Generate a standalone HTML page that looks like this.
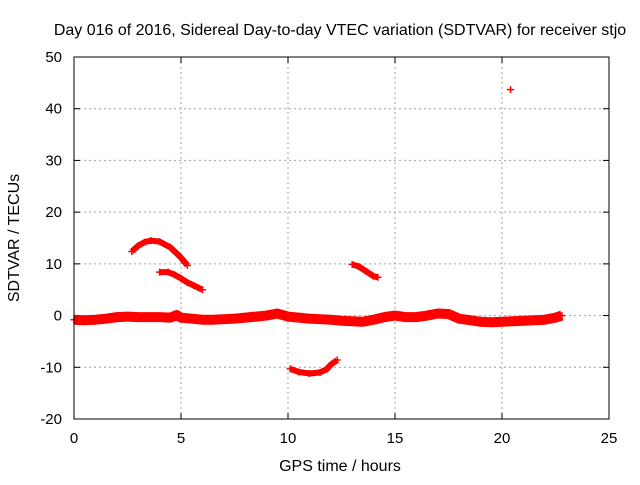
<!DOCTYPE html>
<html><head><meta charset="utf-8"><style>
body{margin:0;background:#fff}
svg text{font-family:"Liberation Sans",sans-serif;font-size:15px;fill:#000}
svg text.big{font-size:16px}
</style></head><body>
<svg id="c" width="640" height="480">
<text class="big" x="340" y="35" text-anchor="middle">Day 016 of 2016, Sidereal Day-to-day VTEC variation (SDTVAR) for receiver stjo</text>
<text class="big" x="340" y="471" text-anchor="middle">GPS time / hours</text>
<text class="big" transform="translate(19,238) rotate(-90)" text-anchor="middle">SDTVAR / TECUs</text>
<g id="grid"></g><g id="marks"></g>
<rect x="74" y="57" width="535" height="362" fill="none" stroke="#000"/>
</svg>
<script>
const xTicks=[0,5,10,15,20,25];
const yTicks=[-20,-10,0,10,20,30,40,50];
const bandT=[0,0.5,1,1.5,2,2.5,3,3.5,4,4.5,4.8,5,5.5,6,6.5,7,7.5,8,8.5,9,9.5,10,10.5,11,11.5,12,12.5,13,13.5,14,14.5,15,15.5,16,16.5,17,17.5,18,18.5,19,19.5,20,20.5,21,21.5,22,22.5,22.8];
const bandV=[-0.8,-0.9,-0.8,-0.6,-0.3,-0.2,-0.3,-0.3,-0.3,-0.4,0.1,-0.4,-0.6,-0.8,-0.8,-0.7,-0.6,-0.4,-0.2,0,0.4,-0.2,-0.4,-0.6,-0.7,-0.8,-1,-1.1,-1.2,-0.8,-0.3,0,-0.3,-0.3,0,0.4,0.3,-0.6,-0.9,-1.2,-1.3,-1.2,-1.1,-1,-0.9,-0.8,-0.4,0];
const arc1T=[2.7,3,3.3,3.6,4,4.5,5,5.3];
const arc1V=[12.4,13.5,14.2,14.5,14.3,13.2,11.2,9.7];
const arc2T=[4,4.4,4.7,5,5.3,5.6,6];
const arc2V=[8.4,8.4,7.9,7.2,6.4,5.8,5];
const arc3T=[13,13.3,13.6,14,14.2];
const arc3V=[9.9,9.5,8.7,7.6,7.4];
const arc4T=[10.1,10.5,11,11.5,11.8,12,12.3];
const arc4V=[-10.3,-10.9,-11.2,-11,-10.4,-9.5,-8.6];
const outT=[20.4], outV=[43.7];
const X=t=>74+t*535/25, Y=v=>419-(v+20)*362/70;
const NS='http://www.w3.org/2000/svg';
const g=document.getElementById('grid'), m=document.getElementById('marks');
function mk(p,tag,a){const e=document.createElementNS(NS,tag);for(const k in a)e.setAttribute(k,a[k]);p.appendChild(e);return e;}
xTicks.forEach(t=>{const x=X(t);
 if(t>0&&t<25){const l=mk(g,'line',{x1:x,x2:x,y1:57,y2:419,stroke:'#a0a0a0','stroke-dasharray':'2,3'});
 
 }
 mk(g,'line',{x1:x,x2:x,y1:419,y2:413,stroke:'#000'});mk(g,'line',{x1:x,x2:x,y1:57,y2:63,stroke:'#000'});
 const tx=mk(g,'text',{x:x,y:443,'text-anchor':'middle'});tx.textContent=t;
 
 });
yTicks.forEach(v=>{const y=Y(v);
 if(v>-20&&v<50){const l=mk(g,'line',{x1:74,x2:609,y1:y,y2:y,stroke:'#a0a0a0','stroke-dasharray':'2,3'});
 
 }
 mk(g,'line',{x1:74,x2:80,y1:y,y2:y,stroke:'#000'});mk(g,'line',{x1:609,x2:603,y1:y,y2:y,stroke:'#000'});
 const tx=mk(g,'text',{x:62,y:y+5,'text-anchor':'end'});tx.textContent=v;
 
 });
function series(T,V,w,name){
 const pts=T.map((t,i)=>X(t)+','+Y(V[i])).join(' ');
 const pl=mk(m,'polyline',{points:pts,fill:'none',stroke:'#f00','stroke-width':w,'stroke-linejoin':'round'});
 
 
 T.forEach((t,i)=>{const x=X(t),y=Y(V[i]);
  const p=mk(m,'path',{d:`M${x-3.5},${y}h7M${x},${y-3.5}v7`,stroke:'#f00','stroke-width':1.5});
  
  });
}
series(bandT,bandV,10,'main-band');
series(arc1T,arc1V,6,'arc-series-1');
series(arc2T,arc2V,6,'arc-series-2');
series(arc3T,arc3V,6,'arc-series-3');
series(arc4T,arc4V,6,'arc-series-4');
series(outT,outV,0,'outlier');
</script>
</body></html>
